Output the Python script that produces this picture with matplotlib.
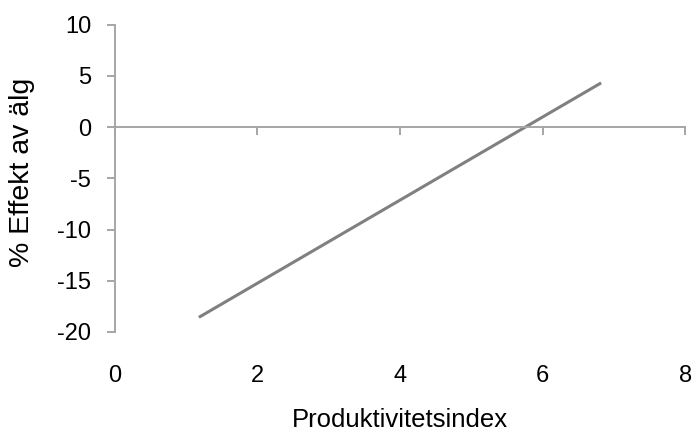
import matplotlib
matplotlib.use('Agg')
import matplotlib.pyplot as plt

# Data
prod_index = [1.18, 6.82]
effekt = [-18.57, 4.32]
x_ticks = [0, 2, 4, 6, 8]
y_ticks = [-20, -15, -10, -5, 0, 5, 10]

plt.rcParams['font.family'] = ['Liberation Sans', 'DejaVu Sans']
plt.rcParams['axes.unicode_minus'] = False

axis_grey = '#a6a6a6'

fig = plt.figure(figsize=(6.93, 4.32), dpi=100)
ax = fig.add_axes([0.1655, 0.2315, 0.8234, 0.7113])

ax.plot(prod_index, effekt, color='#808080', linewidth=2.2, solid_capstyle='butt')

ax.set_xlim(0, 8)
ax.set_ylim(-20, 10)

# x axis line sits at y=0, labels are down at the bottom
ax.spines['bottom'].set_position(('data', 0))
ax.spines['top'].set_visible(False)
ax.spines['right'].set_visible(False)
for s in ['bottom', 'left']:
    ax.spines[s].set_color(axis_grey)
    ax.spines[s].set_linewidth(1.4)

ax.set_xticks(x_ticks)
ax.set_yticks(y_ticks)
ax.tick_params(axis='x', direction='out', length=6, width=1.4, color=axis_grey, labelbottom=False)
ax.tick_params(axis='y', direction='out', length=6, width=1.4, color=axis_grey,
               labelsize=17, pad=11)

sec = ax.secondary_xaxis(location=0)
sec.set_xticks(x_ticks)
sec.tick_params(length=0, labelsize=17, pad=24)
sec.spines['bottom'].set_visible(False)
sec.set_xlabel('Produktivitetsindex', fontsize=18.5, labelpad=15)

ax.set_ylabel('% Effekt av älg', fontsize=20.5, labelpad=11)
ax.yaxis.set_label_coords(-0.14, 0.52)

fig.savefig('out.png', dpi=100)
